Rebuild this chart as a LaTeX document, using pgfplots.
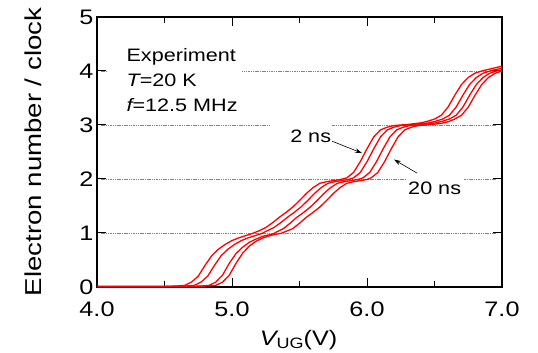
\documentclass[border=0pt]{standalone}
\usepackage{pgfplots}
\pgfplotsset{compat=1.18}
\usetikzlibrary{arrows.meta}
\usepackage{fontspec}
\setmainfont{Liberation Sans}[FakeStretch=1.2]
\begin{document}
\begin{tikzpicture}
\useasboundingbox (-97pt,-66pt) rectangle (441pt,287pt);
\begin{axis}[
 at={(0pt,0pt)}, anchor=south west,
 scale only axis, width=405pt, height=270pt,
 xmin=4, xmax=7, ymin=0, ymax=5,
 xtick={4,5,6,7}, xticklabels={4.0,5.0,6.0,7.0},
 minor xtick={4.5,5.5,6.5},
 ytick={0,1,2,3,4,5},
 tick align=inside,
 major tick length=9pt, minor tick length=6pt,
 major tick style={black, line width=1pt},
 minor tick style={black, line width=1pt},
 axis line style={line width=1.5pt},
 tick label style={font=\fontsize{21}{24}\selectfont},
 /pgf/number format/assume math mode=true,
 xticklabel style={anchor=base, yshift=-30pt},
 clip=false,
]
% dotted grid lines at the integer levels
\draw[blue!55, line width=0.6pt, dash pattern=on 1.5pt off 0.8pt] (axis cs:4.03,1) -- (axis cs:6.96,1);
\draw[blue!55, line width=0.6pt, dash pattern=on 1.5pt off 0.8pt] (axis cs:4.03,2) -- (axis cs:6.96,2);
\draw[blue!55, line width=0.6pt, dash pattern=on 1.5pt off 0.8pt] (axis cs:4.03,3) -- (axis cs:6.96,3);
\draw[blue!55, line width=0.6pt, dash pattern=on 1.5pt off 0.8pt] (axis cs:4.03,4) -- (axis cs:6.96,4);
\fill[white] (axis cs:4.081,3.9) rectangle (axis cs:5.074,4.1);
\fill[white] (axis cs:5.281,2.9) rectangle (axis cs:5.741,3.1);
\fill[white] (axis cs:6.296,1.9) rectangle (axis cs:6.719,2.1);

% 2 ns
\addplot[red, line width=1.3pt] coordinates {
(4.00,0.01) (4.50,0.01) (4.60,0.02) (4.65,0.03) (4.70,0.09) (4.75,0.20) (4.80,0.40) (4.85,0.58) (4.90,0.70) (4.95,0.79) (5.00,0.86) (5.05,0.91) (5.10,0.95) (5.15,0.99)
(5.20,1.04) (5.25,1.10) (5.30,1.19) (5.35,1.29) (5.40,1.38) (5.45,1.48) (5.50,1.60) (5.55,1.73) (5.60,1.84) (5.65,1.92) (5.70,1.95) (5.75,1.97) (5.80,1.99)
(5.85,2.02) (5.90,2.12) (5.95,2.32) (6.00,2.56) (6.05,2.78) (6.10,2.91) (6.15,2.96) (6.20,2.99) (6.30,3.01)
(6.40,3.04) (6.45,3.07) (6.50,3.11) (6.55,3.18) (6.60,3.33) (6.65,3.55) (6.70,3.75) (6.75,3.88) (6.80,3.96) (6.85,4.00) (6.90,4.03) (6.95,4.06) (7.00,4.09)
};
% second
\addplot[red, line width=1.3pt] coordinates {
(4.00,0.01) (4.57,0.01) (4.67,0.02) (4.72,0.03) (4.77,0.09) (4.82,0.20) (4.87,0.40) (4.92,0.58) (4.97,0.70) (5.02,0.79) (5.07,0.86) (5.12,0.91) (5.17,0.95) (5.22,0.99)
(5.26,1.04) (5.31,1.10) (5.36,1.19) (5.41,1.29) (5.46,1.38) (5.51,1.48) (5.56,1.60) (5.61,1.73) (5.66,1.84) (5.71,1.92) (5.76,1.95) (5.81,1.97) (5.86,1.99)
(5.90,2.02) (5.95,2.12) (6.00,2.32) (6.05,2.56) (6.10,2.78) (6.15,2.91) (6.20,2.96) (6.25,2.99) (6.35,3.01)
(6.46,3.04) (6.51,3.07) (6.56,3.11) (6.61,3.18) (6.66,3.33) (6.71,3.55) (6.76,3.75) (6.81,3.88) (6.86,3.96) (6.91,4.00) (6.96,4.03) (7.00,4.05)
};
% third
\addplot[red, line width=1.3pt] coordinates {
(4.00,0.01) (4.68,0.01) (4.78,0.02) (4.83,0.03) (4.88,0.09) (4.93,0.22) (4.98,0.44) (5.03,0.62) (5.08,0.74) (5.13,0.83) (5.18,0.89) (5.23,0.94) (5.28,0.97) (5.31,0.99)
(5.33,1.02) (5.38,1.08) (5.43,1.18) (5.48,1.29) (5.53,1.38) (5.58,1.48) (5.63,1.60) (5.68,1.73) (5.73,1.84) (5.78,1.92) (5.83,1.95) (5.88,1.97) (5.93,1.99)
(5.97,2.02) (6.02,2.12) (6.07,2.32) (6.12,2.56) (6.17,2.78) (6.22,2.91) (6.27,2.96) (6.32,2.99) (6.42,3.01)
(6.51,3.04) (6.56,3.07) (6.61,3.11) (6.66,3.18) (6.71,3.33) (6.76,3.55) (6.81,3.75) (6.86,3.88) (6.91,3.96) (6.96,4.00) (7.00,4.02)
};
% 20 ns
\addplot[red, line width=1.3pt] coordinates {
(4.00,0.01) (4.73,0.01) (4.83,0.02) (4.88,0.03) (4.93,0.09) (4.98,0.22) (5.03,0.44) (5.08,0.63) (5.13,0.76) (5.18,0.85) (5.23,0.91) (5.28,0.95) (5.33,0.98) (5.36,0.99)
(5.40,1.03) (5.45,1.08) (5.50,1.18) (5.55,1.29) (5.60,1.38) (5.65,1.48) (5.70,1.60) (5.75,1.73) (5.80,1.84) (5.85,1.92) (5.90,1.95) (5.95,1.97) (6.00,1.99)
(6.03,2.02) (6.08,2.12) (6.13,2.32) (6.18,2.56) (6.23,2.78) (6.28,2.91) (6.33,2.96) (6.38,2.99) (6.48,3.01)
(6.55,3.03) (6.60,3.06) (6.65,3.11) (6.70,3.18) (6.75,3.33) (6.80,3.55) (6.85,3.75) (6.90,3.88) (6.95,3.96) (7.00,4.00)
};

\node[anchor=base west, font=\fontsize{18}{18}\selectfont] at (axis cs:4.193,4.167) {Experiment};
\node[anchor=base west, font=\fontsize{18}{18}\selectfont] at (axis cs:4.193,3.704) {\itshape T\upshape=20 K};
\node[anchor=base west, font=\fontsize{18}{18}\selectfont] at (axis cs:4.193,3.241) {\itshape f\upshape=12.5 MHz};
\node[anchor=base west, inner sep=0pt, font=\fontsize{18}{18}\selectfont] at (axis cs:5.430,2.685) {2 ns};
\node[anchor=base west, inner sep=0pt, font=\fontsize{18}{18}\selectfont] at (axis cs:6.304,1.704) {20 ns};
\draw[-{Stealth[length=7pt,width=4.5pt]}, line width=0.6pt] (axis cs:5.741,2.70) -- (axis cs:5.963,2.48);
\draw[-{Stealth[length=7pt,width=4.5pt]}, line width=0.6pt] (axis cs:6.37,2.11) -- (axis cs:6.20,2.36);
\end{axis}
\node[rotate=90, anchor=base, font=\fontsize{23}{23}\selectfont] at (-55pt,135pt) {Electron number / clock};
\node[anchor=base, font=\fontsize{21}{21}\selectfont] at (201.5pt,-59pt) {\itshape V\upshape\raisebox{-3pt}{\fontsize{15}{15}\selectfont UG}(V)};
\end{tikzpicture}
\end{document}
